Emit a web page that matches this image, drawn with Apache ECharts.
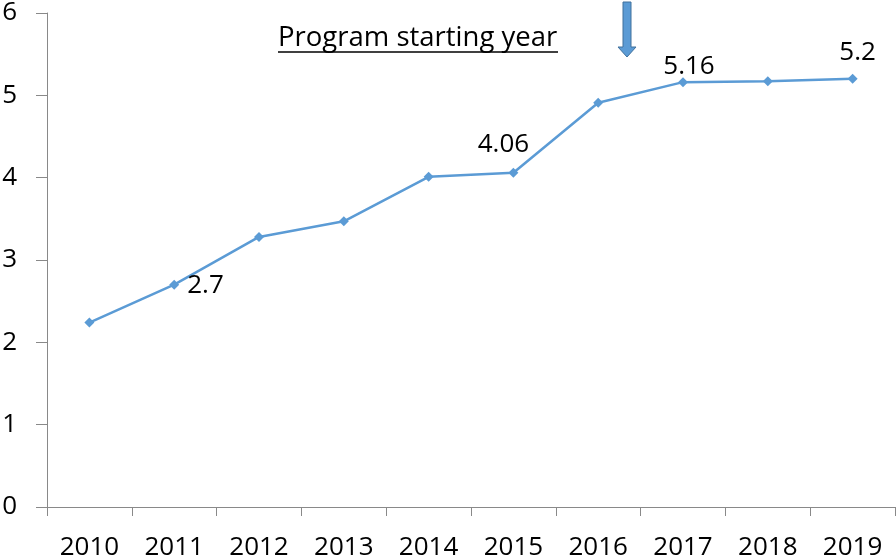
<!DOCTYPE html>
<html><head><meta charset="utf-8">
<script src="https://cdn.jsdelivr.net/npm/echarts@6/dist/echarts.min.js"></script>
<style>html,body{margin:0;padding:0;background:#fff}#c{width:896px;height:558px}</style>
</head><body><div id="c"></div>
<script>
const years = ['2010','2011','2012','2013','2014','2015','2016','2017','2018','2019'];
const values = [2.24, 2.7, 3.28, 3.47, 4.01, 4.06, 4.91, 5.16, 5.17, 5.2];
const yTicks = [0, 1, 2, 3, 4, 5, 6];
const annotationText = 'Program starting year';

const font = '"Open Sans", sans-serif';
const labelCfg = {
  1: {position: 'right', distance: 8, offset: [0, 1]},
  5: {position: 'top', distance: 10, offset: [-10, 0]},
  7: {position: 'top', distance: -2, offset: [6, 0]},
  9: {position: 'top', distance: 8, offset: [5, 0]}
};
const chart = echarts.init(document.getElementById('c'));
const data = values.map((v, i) => {
  const o = {value: v};
  if (labelCfg[i]) o.label = Object.assign({show: true}, labelCfg[i]);
  return o;
});
chart.setOption({
  animation: false,
  grid: {left: 47, right: 1, top: 13, bottom: 51, containLabel: false, outerBoundsMode: 'none'},
  xAxis: {
    type: 'category', data: years, boundaryGap: true,
    axisLine: {lineStyle: {color: '#898989', width: 1}},
    axisTick: {show: true, length: 9, lineStyle: {color: '#898989'}},
    axisLabel: {color: '#000', fontSize: 26, fontFamily: font, margin: 28}
  },
  yAxis: {
    type: 'value', min: yTicks[0], max: yTicks[yTicks.length - 1], interval: 1,
    axisLine: {show: true, lineStyle: {color: '#898989', width: 1}},
    axisTick: {show: true, length: 11, lineStyle: {color: '#898989'}},
    splitLine: {show: false},
    axisLabel: {color: '#000', fontSize: 26, fontFamily: font, margin: 30}
  },
  series: [{
    type: 'line', data: data,
    lineStyle: {color: '#5B9BD5', width: 2.5},
    itemStyle: {color: '#5B9BD5'},
    symbol: 'diamond', symbolSize: 10, showAllSymbol: true,
    label: {show: false, color: '#000', fontSize: 26, fontFamily: font, formatter: p => String(p.value)}
  }],
  graphic: [
    {type: 'text', left: 278, top: 24,
      style: {text: annotationText, fontSize: 27.5, fontFamily: font, fill: '#000'}},
    {type: 'line', shape: {x1: 278, y1: 52, x2: 558, y2: 52}, style: {stroke: '#000', lineWidth: 1.5}},
    {type: 'polygon', shape: {points: [[623,2],[631,2],[631,47],[636,47],[627,57],[618,47],[623,47]]},
      style: {fill: '#5B9BD5', stroke: '#41719C', lineWidth: 1}}
  ]
});
</script></body></html>
